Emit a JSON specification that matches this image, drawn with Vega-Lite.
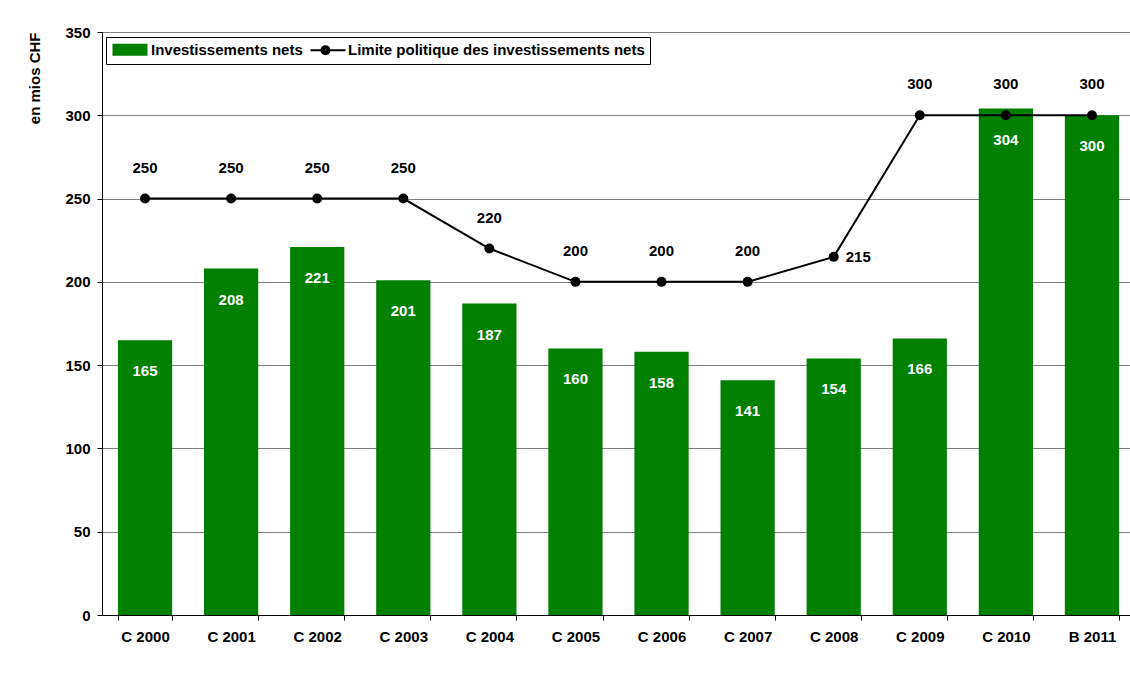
{
  "$schema": "https://vega.github.io/schema/vega-lite/v6.json",
  "width": 1028,
  "height": 583,
  "autosize": {"type": "none"},
  "padding": {"left": 102, "top": 32, "right": 0, "bottom": 73},
  "background": "white",
  "config": {
    "view": {"stroke": "black", "strokeWidth": 1},
    "font": "Liberation Sans"
  },
  "data": {
    "values": [
      {"periode": "C 2000", "invest": 165, "limite": 250},
      {"periode": "C 2001", "invest": 208, "limite": 250},
      {"periode": "C 2002", "invest": 221, "limite": 250},
      {"periode": "C 2003", "invest": 201, "limite": 250},
      {"periode": "C 2004", "invest": 187, "limite": 220},
      {"periode": "C 2005", "invest": 160, "limite": 200},
      {"periode": "C 2006", "invest": 158, "limite": 200},
      {"periode": "C 2007", "invest": 141, "limite": 200},
      {"periode": "C 2008", "invest": 154, "limite": 215},
      {"periode": "C 2009", "invest": 166, "limite": 300},
      {"periode": "C 2010", "invest": 304, "limite": 300},
      {"periode": "B 2011", "invest": 300, "limite": 300}
    ]
  },
  "encoding": {
    "x": {
      "field": "periode",
      "type": "nominal",
      "sort": null,
      "scale": {"range": [0, 1033], "paddingInner": 0.37, "paddingOuter": 0.185},
      "axis": {
        "title": null,
        "labelAngle": 0,
        "labelFont": "Liberation Sans",
        "labelFontWeight": "bold",
        "labelFontSize": 15,
        "labelColor": "black",
        "tickBand": "extent",
        "tickSize": 5,
        "tickColor": "black",
        "domainColor": "black",
        "labelPadding": 9,
        "grid": false
      }
    }
  },
  "layer": [
    {
      "mark": {"type": "bar"},
      "encoding": {
        "y": {
          "field": "invest",
          "type": "quantitative",
          "scale": {"domain": [0, 350], "nice": false},
          "axis": {
            "title": "en mios CHF",
            "titleFont": "Liberation Sans",
            "titleFontSize": 15,
            "titleFontWeight": "bold",
            "titleColor": "black",
            "titleAnchor": "end",
            "titlePadding": 22,
            "values": [0, 50, 100, 150, 200, 250, 300, 350],
            "labelFont": "Liberation Sans",
            "labelFontSize": 15,
            "labelFontWeight": "bold",
            "labelColor": "black",
            "labelPadding": 7,
            "tickSize": 5,
            "tickColor": "black",
            "domainColor": "black",
            "grid": true,
            "gridColor": "#808080",
            "gridWidth": 1
          }
        },
        "color": {
          "datum": "Investissements nets",
          "type": "nominal",
          "scale": {
            "domain": ["Investissements nets", "Limite politique des investissements nets"],
            "range": ["#008000", "black"]
          },
          "legend": {
            "orient": "none",
            "legendX": 4,
            "legendY": 5,
            "direction": "horizontal",
            "title": null,
            "strokeColor": "black",
            "fillColor": "white",
            "padding": 5,
            "labelFont": "Liberation Sans",
            "labelFontSize": 15,
            "labelFontWeight": "bold",
            "labelColor": "black",
            "labelLimit": 400,
            "symbolSize": 100,
            "labelOffset": 25,
            "columnPadding": 3,
            "encode": {
              "symbols": {
                "update": {
                  "shape": {"signal": "datum.value === 'Investissements nets' ? 'M-1,-1H5.6V1H-1Z' : 'M-1,0H6M2.8,0A0.8,0.8 0 1 1 1.2,0A0.8,0.8 0 1 1 2.8,0Z'"},
                  "fill": {"signal": "datum.value === 'Investissements nets' ? '#008000' : 'black'"},
                  "stroke": {"signal": "datum.value === 'Investissements nets' ? 'transparent' : 'black'"},
                  "strokeWidth": {"value": 2},
                  "opacity": {"value": 1},
                  "fillOpacity": {"value": 1},
                  "strokeOpacity": {"value": 1}
                }
              }
            }
          }
        }
      }
    },
    {
      "mark": {"type": "line", "strokeWidth": 2},
      "encoding": {
        "y": {"field": "limite", "type": "quantitative"},
        "color": {"datum": "Limite politique des investissements nets", "type": "nominal"}
      }
    },
    {
      "mark": {"type": "point", "filled": true, "size": 100, "opacity": 1},
      "encoding": {
        "y": {"field": "limite", "type": "quantitative"},
        "color": {"datum": "Limite politique des investissements nets", "type": "nominal"}
      }
    },
    {
      "mark": {"type": "text", "color": "white", "fontWeight": "bold", "fontSize": 15, "font": "Liberation Sans", "baseline": "middle", "dy": 31},
      "encoding": {
        "y": {"field": "invest", "type": "quantitative"},
        "text": {"field": "invest", "type": "quantitative"}
      }
    },
    {
      "transform": [{"filter": "datum.periode !== 'C 2008'"}],
      "mark": {"type": "text", "color": "black", "fontWeight": "bold", "fontSize": 15, "font": "Liberation Sans", "baseline": "middle", "dy": -31},
      "encoding": {
        "y": {"field": "limite", "type": "quantitative"},
        "text": {"field": "limite", "type": "quantitative"}
      }
    },
    {
      "transform": [{"filter": "datum.periode === 'C 2008'"}],
      "mark": {"type": "text", "color": "black", "fontWeight": "bold", "fontSize": 15, "font": "Liberation Sans", "baseline": "middle", "align": "left", "dx": 12},
      "encoding": {
        "y": {"field": "limite", "type": "quantitative"},
        "text": {"field": "limite", "type": "quantitative"}
      }
    }
  ]
}
